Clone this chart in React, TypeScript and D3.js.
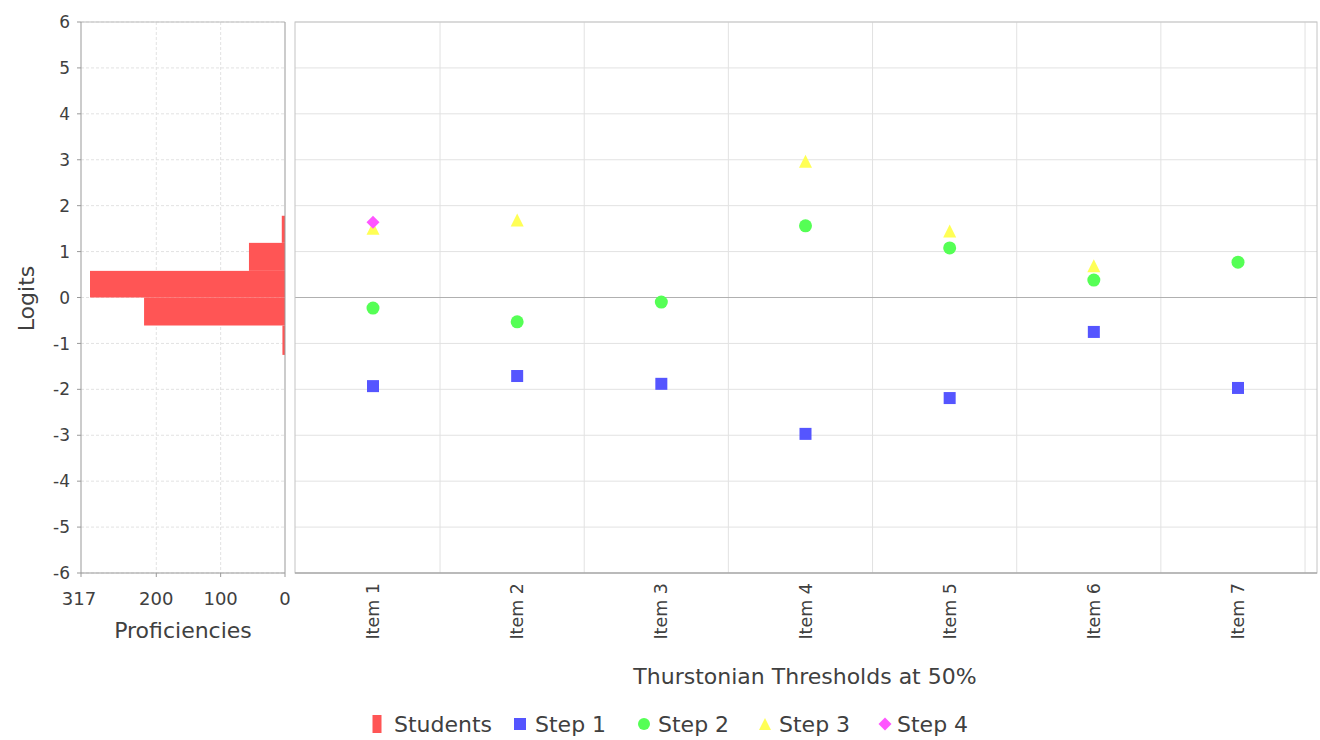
import React from "react";
import * as d3 from "d3";

// ---- Data ----
const items = ["Item 1", "Item 2", "Item 3", "Item 4", "Item 5", "Item 6", "Item 7"];
const step1 = [-1.93, -1.71, -1.88, -2.97, -2.19, -0.75, -1.97];
const step2 = [-0.23, -0.53, -0.1, 1.56, 1.08, 0.38, 0.77];
const step3: (number | null)[] = [1.51, 1.69, null, 2.97, 1.45, 0.69, null];
const step4: (number | null)[] = [1.64, null, null, null, null, null, null];

const binLower = [-1.25, -0.61, 0.0, 0.58, 1.19];
const binUpper = [-0.61, 0.0, 0.58, 1.19, 1.78];
const studentCounts = [4, 219, 303, 56, 5];

const logitTicks = [6, 5, 4, 3, 2, 1, 0, -1, -2, -3, -4, -5, -6];
const countTicks = [317, 200, 100, 0];

const seriesNames = ["Students", "Step 1", "Step 2", "Step 3", "Step 4"];
const seriesColors = ["#ff5555", "#5555ff", "#55ff55", "#ffff55", "#ff55ff"];

const FONT = "'DejaVu Sans', Verdana, sans-serif";

export default function App() {
  const W = 1320, H = 740;
  const top = 22, bottom = 573;
  const lpL = 81, lpR = 285;
  const rpL = 295, rpR = 1317;

  const y = d3.scaleLinear().domain([-6, 6]).range([bottom, top]);
  const xc = d3.scaleLinear().domain([0, 317]).range([lpR, lpL]);
  const xi = d3.scaleLinear().domain([1, 7]).range([373, 1238]);
  const gridPos = d3.range(1, 8).map((i) => i + 0.465);

  const grid = "#e2e2e2";
  const txt = "#404040";

  const square = (cx: number, cy: number, s = 12) => (
    <rect x={cx - s / 2} y={cy - s / 2} width={s} height={s} />
  );
  const tri = (cx: number, cy: number, s = 13) => (
    <path d={`M${cx},${cy - s / 2}L${cx + s / 2},${cy + s / 2}L${cx - s / 2},${cy + s / 2}Z`} />
  );
  const dia = (cx: number, cy: number, s = 6.5) => (
    <path d={`M${cx},${cy - s}L${cx + s},${cy}L${cx},${cy + s}L${cx - s},${cy}Z`} />
  );

  const legendIconX = [377, 520, 644, 765, 885];
  const legendTextX = [394, 535, 658, 779, 897];

  return (
    <svg width={W} height={H} style={{ position: "absolute", left: 0, top: 0, background: "#fff" }} fontFamily={FONT}>
      <rect x={0} y={0} width={W} height={H} fill="#fff" />

      {/* ---- Left panel (proficiencies) ---- */}
      <g>
        {logitTicks.map((t) => (
          <line key={"lg" + t} x1={lpL} x2={lpR} y1={y(t)} y2={y(t)} stroke={grid} strokeDasharray="3,2" />
        ))}
        {countTicks.filter((c) => c !== 0 && c !== 317).map((c) => (
          <line key={"lv" + c} x1={xc(c)} x2={xc(c)} y1={top} y2={bottom} stroke={grid} strokeDasharray="3,2" />
        ))}
        <line x1={lpL} x2={lpR} y1={top} y2={top} stroke="#bbb" />
        {studentCounts.map((c, i) => (
          <rect key={"b" + i} x={xc(c)} y={y(binUpper[i])} width={xc(0) - xc(c)} height={y(binLower[i]) - y(binUpper[i])} fill={seriesColors[0]} />
        ))}
        <line x1={lpR} x2={lpR} y1={top} y2={bottom} stroke="#999" />
        {/* left y axis */}
        <line x1={lpL} x2={lpL} y1={top} y2={bottom} stroke="#999" />
        {logitTicks.map((t) => (
          <g key={"yt" + t}>
            <line x1={lpL - 4} x2={lpL} y1={y(t)} y2={y(t)} stroke="#999" />
            <text x={lpL - 11} y={y(t)} dy="0.36em" textAnchor="end" fontSize={17} fill={txt}>{t}</text>
          </g>
        ))}
        {/* bottom count axis */}
        <line x1={lpL} x2={lpR} y1={bottom} y2={bottom} stroke="#999" />
        {countTicks.map((c) => (
          <g key={"ct" + c}>
            <line x1={xc(c)} x2={xc(c)} y1={bottom} y2={bottom + 4} stroke="#999" />
            <text x={xc(c) - (c === 317 ? 2 : 0)} y={605} textAnchor="middle" fontSize={18} fill={txt}>{c}</text>
          </g>
        ))}
        <text x={183} y={638} textAnchor="middle" fontSize={22} fill={txt}>Proficiencies</text>
        <text transform={`translate(34,${y(0) + 1}) rotate(-90)`} textAnchor="middle" fontSize={22} fill={txt}>Logits</text>
      </g>

      {/* ---- Right panel (thresholds) ---- */}
      <g>
        {logitTicks.map((t) => (
          <line key={"rg" + t} x1={rpL} x2={rpR} y1={y(t)} y2={y(t)} stroke={grid} />
        ))}
        {gridPos.map((g) => (
          <line key={"rv" + g} x1={xi(g)} x2={xi(g)} y1={top} y2={bottom} stroke={grid} />
        ))}
        <line x1={rpL} x2={rpR} y1={y(0)} y2={y(0)} stroke="#b0b0b0" />
        <rect x={rpL} y={top} width={rpR - rpL} height={bottom - top} fill="none" stroke="#c4c4c4" />
        <line x1={rpL} x2={rpR} y1={bottom} y2={bottom} stroke="#999" />

        <g fill={seriesColors[1]}>{step1.map((v, i) => <g key={"s1" + i}>{square(xi(i + 1), y(v))}</g>)}</g>
        <g fill={seriesColors[2]}>{step2.map((v, i) => <circle key={"s2" + i} cx={xi(i + 1)} cy={y(v)} r={6.5} />)}</g>
        <g fill={seriesColors[3]}>{step3.map((v, i) => v == null ? null : <g key={"s3" + i}>{tri(xi(i + 1), y(v))}</g>)}</g>
        <g fill={seriesColors[4]}>{step4.map((v, i) => v == null ? null : <g key={"s4" + i}>{dia(xi(i + 1), y(v))}</g>)}</g>

        {items.map((it, i) => (
          <text key={it} transform={`translate(${xi(i + 1) + 6},583) rotate(-90)`} textAnchor="end" fontSize={17.5} fill={txt}>{it}</text>
        ))}
        <text x={805} y={684} textAnchor="middle" fontSize={22} fill={txt}>Thurstonian Thresholds at 50%</text>
      </g>

      {/* ---- Legend ---- */}
      <g fontSize={22} fill={txt}>
        {seriesNames.map((n, i) => {
          const cx = legendIconX[i];
          const cy = 724;
          let icon;
          if (i === 0) icon = <rect x={cx - 4.5} y={cy - 9} width={9} height={18} fill={seriesColors[0]} />;
          else if (i === 1) icon = <rect x={cx - 6} y={cy - 6} width={12} height={12} fill={seriesColors[1]} />;
          else if (i === 2) icon = <circle cx={cx} cy={cy} r={6} fill={seriesColors[2]} />;
          else if (i === 3) icon = <path d={`M${cx},${cy - 6}L${cx + 6},${cy + 6}L${cx - 6},${cy + 6}Z`} fill={seriesColors[3]} />;
          else icon = <path d={`M${cx},${cy - 6.5}L${cx + 6.5},${cy}L${cx},${cy + 6.5}L${cx - 6.5},${cy}Z`} fill={seriesColors[4]} />;
          return (
            <g key={n}>
              {icon}
              <text x={legendTextX[i]} y={cy} dy="0.36em" fill={txt}>{n}</text>
            </g>
          );
        })}
      </g>
    </svg>
  );
}
